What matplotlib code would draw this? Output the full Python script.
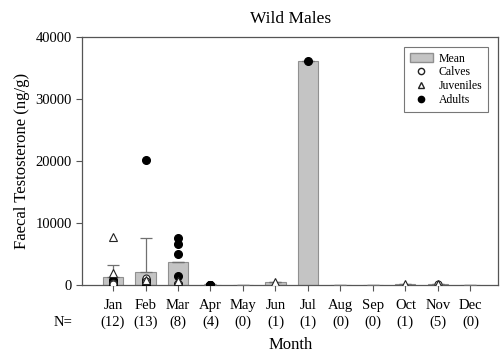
import matplotlib
matplotlib.use("Agg")
import matplotlib.pyplot as plt
from matplotlib.transforms import blended_transform_factory
from matplotlib.lines import Line2D
from matplotlib.patches import Patch

plt.rcParams['font.family'] = ['Liberation Serif', 'DejaVu Serif']

months = ["Jan", "Feb", "Mar", "Apr", "May", "Jun", "Jul", "Aug", "Sep", "Oct", "Nov", "Dec"]
n_counts = [12, 13, 8, 4, 0, 1, 1, 0, 0, 1, 5, 0]
mean_vals = [1250, 2150, 3750, 80, 0, 500, 36200, 0, 0, 120, 180, 0]
err_upper = [2050, 5400, 0, 30, 0, 0, 0, 0, 0, 60, 80, 0]

calves = {1: [300, 150], 2: [1200, 600], 3: [300], 11: [250]}
juveniles = {1: [7800, 1900], 2: [900], 3: [700], 6: [500], 10: [150], 11: [150]}
adults = {1: [900, 600, 400, 250, 100, 50, 20, 0],
          2: [20100, 800, 600, 400, 250, 100, 50, 0, 300],
          3: [7600, 6700, 5000, 1500, 200, 100],
          4: [100, 50, 30, 20],
          7: [36200]}

fig = plt.figure(figsize=(5.01, 3.56), dpi=100)
ax = fig.add_axes([0.164, 0.199, 0.830, 0.697])

x = list(range(1, 13))
ax.bar(x, mean_vals, width=0.62, color="#c4c4c4", edgecolor="#909090", linewidth=0.8, zorder=2)
ax.errorbar(x, mean_vals, yerr=[[0] * 12, err_upper], fmt="none", ecolor="#707070",
            elinewidth=0.9, capsize=4, capthick=0.9, zorder=3)

for m, vals in adults.items():
    ax.plot([m] * len(vals), vals, "o", color="black", markersize=5.5, zorder=4, linestyle="none")
for m, vals in calves.items():
    ax.plot([m] * len(vals), vals, "o", markerfacecolor="white", markeredgecolor="#222222",
            markersize=5, markeredgewidth=0.8, zorder=5, linestyle="none")
for m, vals in juveniles.items():
    ax.plot([m] * len(vals), vals, "^", markerfacecolor="white", markeredgecolor="#222222",
            markersize=5.5, markeredgewidth=0.8, zorder=5, linestyle="none")

ax.set_xlim(0.05, 12.85)
ax.set_ylim(0, 40000)
ax.set_yticks([0, 10000, 20000, 30000, 40000])
ax.set_xticks(x)
ax.set_xticklabels(months, fontsize=10.5)
ax.tick_params(axis="x", direction="out", length=4, pad=6, color="#555555")
ax.tick_params(axis="y", direction="out", length=4, labelsize=10.5, color="#555555")
for s in ax.spines.values():
    s.set_color("#555555")
    s.set_linewidth(0.9)

trans = blended_transform_factory(ax.transData, ax.transAxes)
for xi, n in zip(x, n_counts):
    ax.text(xi, -0.15, f"({n})", transform=trans, ha="center", va="center", fontsize=10.5)
ax.text(-0.024, -0.15, "N=", transform=ax.transAxes, ha="right", va="center", fontsize=10.5)

ax.set_title("Wild Males", fontsize=12.5, pad=10)
ax.set_ylabel("Faecal Testosterone (ng/g)", fontsize=12, labelpad=4)
fig.text(0.58, 1 - 345 / 356, "Month", ha="center", va="center", fontsize=12)

handles = [Patch(facecolor="#c4c4c4", edgecolor="#909090"),
           Line2D([], [], marker="o", linestyle="none", markerfacecolor="white", markeredgecolor="#222222", markersize=4.5),
           Line2D([], [], marker="^", linestyle="none", markerfacecolor="white", markeredgecolor="#222222", markersize=4.5),
           Line2D([], [], marker="o", linestyle="none", color="black", markersize=4.5)]
leg = ax.legend(handles, ["Mean", "Calves", "Juveniles", "Adults"], loc="upper right",
                bbox_to_anchor=(0.99, 0.985), fontsize=8.5, frameon=True, fancybox=False,
                edgecolor="#555555", handlelength=1.9, handletextpad=0.5, borderpad=0.5,
                labelspacing=0.15)
leg.get_frame().set_linewidth(0.8)

fig.savefig("out.png", dpi=100)
